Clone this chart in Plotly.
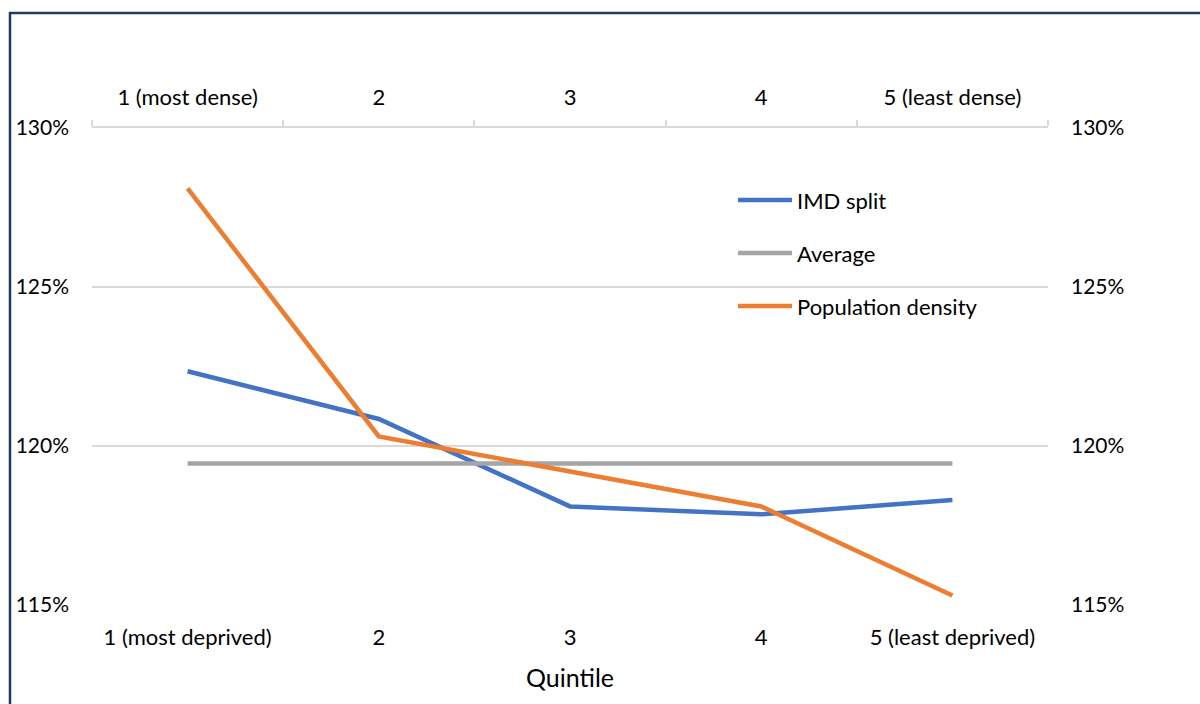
import plotly.graph_objects as go

# Quintile categories for the two x axes
deprivation_quintiles = ["1 (most deprived)", "2", "3", "4", "5 (least deprived)"]
density_quintiles = ["1 (most dense)", "2", "3", "4", "5 (least dense)"]

# Series values (%)
imd_split = [122.35, 120.85, 118.1, 117.85, 118.3]
average = [119.45, 119.45, 119.45, 119.45, 119.45]
population_density = [128.1, 120.3, 119.2, 118.1, 115.3]

series_names = ["IMD split", "Average", "Population density"]
series_colors = ["#4472C4", "#A5A5A5", "#ED7D31"]

FONT = "Lato"
GRID = "#D9D9D9"
TEXT = "#000000"

fig = go.Figure()

fig.add_trace(go.Scatter(
    x=deprivation_quintiles, y=imd_split, name=series_names[0],
    mode="lines", line=dict(color=series_colors[0], width=4.5),
    xaxis="x", yaxis="y", showlegend=False,
))
fig.add_trace(go.Scatter(
    x=deprivation_quintiles, y=average, name=series_names[1],
    mode="lines", line=dict(color=series_colors[1], width=4.5),
    xaxis="x", yaxis="y", showlegend=False,
))
fig.add_trace(go.Scatter(
    x=density_quintiles, y=population_density, name=series_names[2],
    mode="lines", line=dict(color=series_colors[2], width=4.5),
    xaxis="x2", yaxis="y2", showlegend=False,
))

# Plot area geometry in pixels (used to place the legend and frame)
L, R, T, B = 92, 1048, 128, 605
W, H = R - L, B - T


def px(x):
    return (x - L) / W


def py(y):
    return (B - y) / H


shapes = [
    # outer frame (left and top edges visible)
    dict(type="rect", xref="paper", yref="paper",
         x0=px(10), x1=px(1260), y0=py(760), y1=py(13),
         line=dict(color="#203864", width=2.5), fillcolor="rgba(0,0,0,0)", layer="below"),
]
annotations = []

# Legend: line sample + label for each series
legend_y = [200, 253, 306]
for name, color, yy in zip(series_names, series_colors, legend_y):
    shapes.append(dict(type="line", xref="paper", yref="paper",
                       x0=px(738), x1=px(792), y0=py(yy), y1=py(yy),
                       line=dict(color=color, width=4.5)))
    annotations.append(dict(xref="paper", yref="paper", x=px(795), y=py(yy),
                            text=name, showarrow=False, xanchor="left", yanchor="middle",
                            font=dict(family=FONT, size=22, color=TEXT)))

yaxis_common = dict(
    range=[115, 130], dtick=5, ticksuffix="%",
    showgrid=True, gridcolor=GRID, gridwidth=1.5,
    zeroline=False, showline=False, ticks="",
    tickfont=dict(family=FONT, size=21, color=TEXT),
    ticklabelstandoff=22,
)

fig.update_layout(
    width=1200, height=704,
    margin=dict(l=L, r=1200 - R, t=T, b=704 - B, pad=0),
    paper_bgcolor="white", plot_bgcolor="white",
    xaxis=dict(
        type="category", range=[-0.5, 4.5],
        showgrid=False, zeroline=False, showline=False, ticks="",
        tickfont=dict(family=FONT, size=22, color=TEXT),
        ticklabelstandoff=17,
        title=dict(text="Quintile", font=dict(family=FONT, size=25, color=TEXT), standoff=20),
    ),
    xaxis2=dict(
        type="category", range=[-0.5, 4.5], overlaying="x", side="top",
        showgrid=False, zeroline=False,
        showline=True, linecolor=GRID, linewidth=1.5,
        ticks="outside", tickson="boundaries", ticklen=6, tickcolor=GRID, tickwidth=1.5,
        tickfont=dict(family=FONT, size=22, color=TEXT),
        ticklabelstandoff=12,
    ),
    yaxis=dict(side="left", **yaxis_common),
    yaxis2=dict(side="right", overlaying="y", **yaxis_common),
    shapes=shapes,
    annotations=annotations,
    showlegend=False,
)

fig.write_html("out.html")
